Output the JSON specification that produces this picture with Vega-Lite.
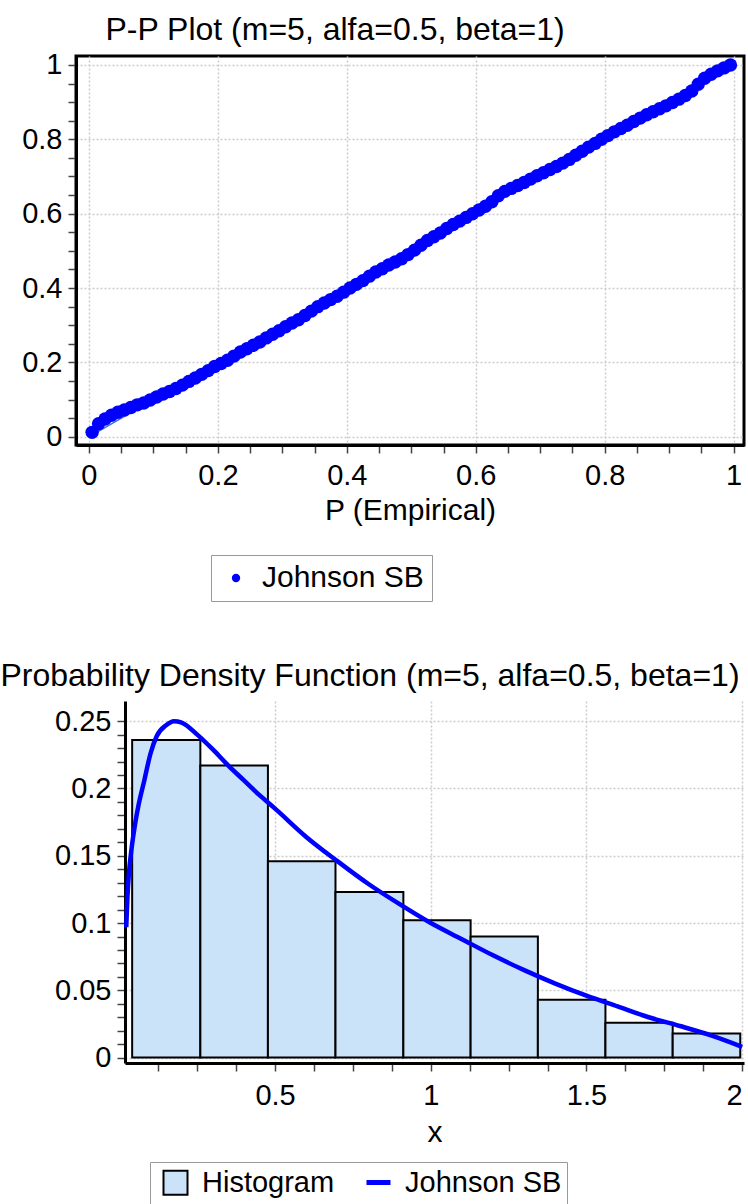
{
  "$schema": "https://vega.github.io/schema/vega-lite/v6.json",
  "background": "white",
  "padding": {"left": 0, "top": 12, "right": 0, "bottom": 0},
  "columns": 1,
  "align": "none",
  "bounds": "full",
  "spacing": 57,
  "resolve": {
    "scale": {"color": "independent", "fill": "independent", "stroke": "independent"},
    "legend": {"color": "independent", "fill": "independent", "stroke": "independent"}
  },
  "config": {
    "font": "Liberation Sans",
    "view": {"stroke": "black", "strokeWidth": 3},
    "axis": {
      "labelFont": "Liberation Sans", "labelFontSize": 29, "labelColor": "black",
      "titleFont": "Liberation Sans", "titleFontSize": 30, "titleFontWeight": "normal", "titleColor": "black",
      "domain": true, "domainColor": "black", "domainWidth": 3,
      "tickColor": "#444444", "tickWidth": 1.5, "tickSize": 8,
      "gridColor": "#cccccc", "gridDash": [2, 2], "gridWidth": 1.5,
      "labelOverlap": false, "labelFlush": false, "labelBound": false
    },
    "legend": {
      "labelFont": "Liberation Sans", "labelFontSize": 29, "labelColor": "black", "labelLimit": 800,
      "strokeColor": "#999999", "fillColor": "white", "cornerRadius": 0
    },
    "title": {"font": "Liberation Sans", "fontSize": 32, "fontWeight": "normal", "color": "black"}
  },
  "concat": [
    {
      "width": 668,
      "height": 389,
      "title": {"text": "P-P Plot (m=5, alfa=0.5, beta=1)", "anchor": "middle", "dx": -75, "offset": 4},
      "encoding": {
        "x": {
          "field": "p", "type": "quantitative",
          "scale": {"domain": [-0.02, 1.016], "nice": false, "zero": false},
          "axis": {
            "title": "P (Empirical)",
            "values": [0, 0.05, 0.1, 0.15, 0.2, 0.25, 0.3, 0.35, 0.4, 0.45, 0.5, 0.55, 0.6, 0.65, 0.7, 0.75, 0.8, 0.85, 0.9, 0.95, 1],
            "labelExpr": "abs(datum.value*5-round(datum.value*5))<0.001 ? format(datum.value,'~g') : ''",
            "gridOpacity": {"condition": {"test": "abs(datum.value*5-round(datum.value*5))<0.001", "value": 1}, "value": 0},
            "labelPadding": 8, "titlePadding": 5
          }
        },
        "y": {
          "field": "f", "type": "quantitative",
          "scale": {"domain": [-0.022, 1.024], "nice": false, "zero": false},
          "axis": {
            "title": null,
            "values": [0, 0.05, 0.1, 0.15, 0.2, 0.25, 0.3, 0.35, 0.4, 0.45, 0.5, 0.55, 0.6, 0.65, 0.7, 0.75, 0.8, 0.85, 0.9, 0.95, 1],
            "labelExpr": "abs(datum.value*5-round(datum.value*5))<0.001 ? format(datum.value,'~g') : ''",
            "gridOpacity": {"condition": {"test": "abs(datum.value*5-round(datum.value*5))<0.001", "value": 1}, "value": 0},
            "labelPadding": 6, "minExtent": 74, "maxExtent": 74
          }
        }
      },
      "layer": [
        {
          "data": {"values": [{"p": 0, "f": 0}, {"p": 1, "f": 1}]},
          "mark": {"type": "line", "color": "#3f6fd1", "strokeWidth": 1.5},
          "encoding": {}
        },
        {
          "data": {"values": [
            {"p": 0.005, "f": 0.012}, {"p": 0.015, "f": 0.035}, {"p": 0.025, "f": 0.048}, {"p": 0.035, "f": 0.058},
            {"p": 0.045, "f": 0.066}, {"p": 0.055, "f": 0.072}, {"p": 0.065, "f": 0.079}, {"p": 0.075, "f": 0.086},
            {"p": 0.085, "f": 0.091}, {"p": 0.095, "f": 0.099}, {"p": 0.105, "f": 0.107}, {"p": 0.115, "f": 0.115},
            {"p": 0.125, "f": 0.122}, {"p": 0.135, "f": 0.13}, {"p": 0.145, "f": 0.139}, {"p": 0.155, "f": 0.149},
            {"p": 0.165, "f": 0.158}, {"p": 0.175, "f": 0.168}, {"p": 0.185, "f": 0.178}, {"p": 0.195, "f": 0.189},
            {"p": 0.205, "f": 0.197}, {"p": 0.215, "f": 0.206}, {"p": 0.225, "f": 0.217}, {"p": 0.235, "f": 0.228},
            {"p": 0.245, "f": 0.237}, {"p": 0.255, "f": 0.246}, {"p": 0.265, "f": 0.255}, {"p": 0.275, "f": 0.266},
            {"p": 0.285, "f": 0.276}, {"p": 0.295, "f": 0.285}, {"p": 0.305, "f": 0.296}, {"p": 0.315, "f": 0.306},
            {"p": 0.325, "f": 0.315}, {"p": 0.335, "f": 0.326}, {"p": 0.345, "f": 0.338}, {"p": 0.355, "f": 0.35},
            {"p": 0.365, "f": 0.36}, {"p": 0.375, "f": 0.369}, {"p": 0.385, "f": 0.378}, {"p": 0.395, "f": 0.389},
            {"p": 0.405, "f": 0.4}, {"p": 0.415, "f": 0.41}, {"p": 0.425, "f": 0.42}, {"p": 0.435, "f": 0.432},
            {"p": 0.445, "f": 0.443}, {"p": 0.455, "f": 0.452}, {"p": 0.465, "f": 0.462}, {"p": 0.475, "f": 0.47},
            {"p": 0.485, "f": 0.479}, {"p": 0.495, "f": 0.49}, {"p": 0.505, "f": 0.502}, {"p": 0.515, "f": 0.515},
            {"p": 0.525, "f": 0.528}, {"p": 0.535, "f": 0.538}, {"p": 0.545, "f": 0.548}, {"p": 0.555, "f": 0.56},
            {"p": 0.565, "f": 0.571}, {"p": 0.575, "f": 0.58}, {"p": 0.585, "f": 0.59}, {"p": 0.595, "f": 0.6},
            {"p": 0.605, "f": 0.61}, {"p": 0.615, "f": 0.62}, {"p": 0.625, "f": 0.632}, {"p": 0.635, "f": 0.648},
            {"p": 0.645, "f": 0.66}, {"p": 0.655, "f": 0.668}, {"p": 0.665, "f": 0.676}, {"p": 0.675, "f": 0.684},
            {"p": 0.685, "f": 0.693}, {"p": 0.695, "f": 0.702}, {"p": 0.705, "f": 0.71}, {"p": 0.715, "f": 0.719},
            {"p": 0.725, "f": 0.727}, {"p": 0.735, "f": 0.736}, {"p": 0.745, "f": 0.746}, {"p": 0.755, "f": 0.757},
            {"p": 0.765, "f": 0.768}, {"p": 0.775, "f": 0.779}, {"p": 0.785, "f": 0.789}, {"p": 0.795, "f": 0.8},
            {"p": 0.805, "f": 0.81}, {"p": 0.815, "f": 0.82}, {"p": 0.825, "f": 0.829}, {"p": 0.835, "f": 0.838},
            {"p": 0.845, "f": 0.848}, {"p": 0.855, "f": 0.857}, {"p": 0.865, "f": 0.866}, {"p": 0.875, "f": 0.874},
            {"p": 0.885, "f": 0.882}, {"p": 0.895, "f": 0.89}, {"p": 0.905, "f": 0.899}, {"p": 0.915, "f": 0.908},
            {"p": 0.925, "f": 0.918}, {"p": 0.935, "f": 0.93}, {"p": 0.945, "f": 0.948}, {"p": 0.955, "f": 0.964},
            {"p": 0.965, "f": 0.975}, {"p": 0.975, "f": 0.984}, {"p": 0.985, "f": 0.992}, {"p": 0.995, "f": 1.0}
          ]},
          "mark": {"type": "point", "filled": true, "size": 180, "opacity": 1, "shape": "circle"},
          "encoding": {
            "color": {
              "datum": "Johnson SB",
              "scale": {"domain": ["Johnson SB"], "range": ["#0000ff"]},
              "legend": {
                "title": null, "orient": "none", "legendX": 135, "legendY": 499,
                "direction": "horizontal", "symbolType": "circle", "symbolSize": 70,
                "padding": 8, "symbolOffset": 2, "labelOffset": 11, "labelFontSize": 30
              }
            }
          }
        }
      ]
    },
    {
      "width": 668,
      "height": 362,
      "view": {"stroke": null},
      "title": {"text": "Probability Density Function (m=5, alfa=0.5, beta=1)", "anchor": "middle", "dx": -40, "offset": 8},
      "encoding": {
        "x": {
          "field": "x", "type": "quantitative",
          "scale": {"domain": [0.018, 2.006], "nice": false, "zero": false, "range": [49, 668]},
          "axis": {
            "title": "x",
            "values": [0.125, 0.25, 0.375, 0.5, 0.625, 0.75, 0.875, 1, 1.125, 1.25, 1.375, 1.5, 1.625, 1.75, 1.875, 2],
            "labelExpr": "abs(datum.value*2-round(datum.value*2))<0.001 ? format(datum.value,'~g') : ''",
            "gridOpacity": {"condition": {"test": "abs(datum.value*2-round(datum.value*2))<0.001", "value": 1}, "value": 0},
            "labelPadding": 10, "titlePadding": 7, "labelFlush": 5
          }
        },
        "y": {
          "field": "density", "type": "quantitative",
          "scale": {"domain": [-0.004, 0.265], "nice": false, "zero": false},
          "axis": {
            "title": null, "offset": -49,
            "values": [0, 0.01, 0.02, 0.03, 0.04, 0.05, 0.06, 0.07, 0.08, 0.09, 0.1, 0.11, 0.12, 0.13, 0.14, 0.15, 0.16, 0.17, 0.18, 0.19, 0.2, 0.21, 0.22, 0.23, 0.24, 0.25],
            "labelExpr": "abs(datum.value*20-round(datum.value*20))<0.001 ? format(datum.value,'~g') : ''",
            "gridOpacity": {"condition": {"test": "abs(datum.value*20-round(datum.value*20))<0.001", "value": 1}, "value": 0},
            "labelPadding": 6, "minExtent": 74, "maxExtent": 74
          }
        }
      },
      "layer": [
        {
          "data": {"values": [
            {"x": 0.041, "xe": 0.26, "density": 0.236},
            {"x": 0.26, "xe": 0.477, "density": 0.217},
            {"x": 0.477, "xe": 0.694, "density": 0.146},
            {"x": 0.694, "xe": 0.912, "density": 0.123},
            {"x": 0.912, "xe": 1.128, "density": 0.102},
            {"x": 1.128, "xe": 1.344, "density": 0.09},
            {"x": 1.344, "xe": 1.561, "density": 0.043},
            {"x": 1.561, "xe": 1.777, "density": 0.026},
            {"x": 1.777, "xe": 1.994, "density": 0.018}
          ]},
          "mark": {"type": "bar", "stroke": "black", "strokeWidth": 2, "opacity": 1},
          "encoding": {
            "x2": {"field": "xe"},
            "y2": {"datum": 0},
            "fill": {
              "datum": "Histogram",
              "scale": {"domain": ["Histogram", "Johnson SB"], "range": ["#cbe3f9", "white"]},
              "legend": {
                "title": null, "orient": "none", "legendX": 74, "legendY": 461,
                "direction": "horizontal", "symbolType": "square", "symbolSize": 576,
                "symbolStrokeColor": "black", "symbolStrokeWidth": 2, "symbolOpacity": 1,
                "padding": 6, "symbolOffset": 5, "labelOffset": 12, "columnPadding": 180,
                "labelExpr": "datum.value === 'Histogram' ? datum.label : ''"
              }
            }
          }
        },
        {
          "data": {"values": [
            {"x": 0.022, "density": 0.097}, {"x": 0.026, "density": 0.12}, {"x": 0.03, "density": 0.135},
            {"x": 0.04, "density": 0.157}, {"x": 0.05, "density": 0.173}, {"x": 0.06, "density": 0.186},
            {"x": 0.08, "density": 0.206}, {"x": 0.1, "density": 0.226}, {"x": 0.12, "density": 0.239},
            {"x": 0.15, "density": 0.247}, {"x": 0.175, "density": 0.25}, {"x": 0.2, "density": 0.249},
            {"x": 0.25, "density": 0.24}, {"x": 0.3, "density": 0.229}, {"x": 0.35, "density": 0.217},
            {"x": 0.4, "density": 0.206}, {"x": 0.45, "density": 0.195}, {"x": 0.5, "density": 0.185},
            {"x": 0.6, "density": 0.164}, {"x": 0.7, "density": 0.146}, {"x": 0.8, "density": 0.129},
            {"x": 0.9, "density": 0.114}, {"x": 1.0, "density": 0.1}, {"x": 1.1, "density": 0.088},
            {"x": 1.2, "density": 0.076}, {"x": 1.3, "density": 0.065}, {"x": 1.4, "density": 0.055},
            {"x": 1.5, "density": 0.046}, {"x": 1.6, "density": 0.038}, {"x": 1.7, "density": 0.030},
            {"x": 1.8, "density": 0.0235}, {"x": 1.9, "density": 0.0165}, {"x": 2.0, "density": 0.008}
          ]},
          "mark": {"type": "line", "strokeWidth": 4.5, "interpolate": "monotone"},
          "encoding": {
            "stroke": {
              "datum": "Johnson SB",
              "scale": {"domain": ["Johnson SB"], "range": ["#0000ff"]},
              "legend": {
                "title": null, "orient": "none", "legendX": 284, "legendY": 463,
                "direction": "horizontal", "symbolType": "stroke", "symbolSize": 576,
                "symbolStrokeWidth": 5, "symbolOpacity": 1,
                "padding": 4, "symbolOffset": 0, "labelOffset": 12,
                "strokeColor": "white", "fillColor": "white"
              }
            }
          }
        },
        {
          "data": {"values": [{}]},
          "mark": {"type": "rule", "color": "black", "strokeWidth": 3},
          "encoding": {"x": {"datum": 0.018}, "x2": {"datum": 2.006}, "y": {"datum": 0.265}}
        },
        {
          "data": {"values": [{}]},
          "mark": {"type": "rule", "color": "black", "strokeWidth": 3},
          "encoding": {"x": {"datum": 2.006}, "y": {"datum": -0.004}, "y2": {"datum": 0.265}}
        }
      ]
    }
  ]
}
